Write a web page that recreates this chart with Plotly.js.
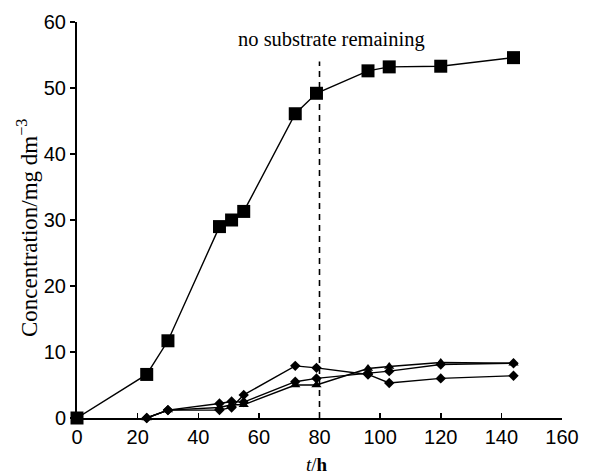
<!DOCTYPE html>
<html>
<head>
<meta charset="utf-8">
<script src="https://cdn.plot.ly/plotly-3.0.1.min.js"></script>
<style>html,body{margin:0;padding:0;background:#fff;}#chart{width:594px;height:475px;}</style>
</head>
<body>
<div id="chart"></div>
<script>
// Time points (h)
const tSquare = [0, 23, 30, 47, 51, 55, 72, 79, 96, 103, 120, 144];
const squareVals = [0, 6.6, 11.7, 29.0, 30.0, 31.3, 46.1, 49.2, 52.6, 53.2, 53.3, 54.6];

const tSmall = [23, 30, 47, 51, 55, 72, 79, 96, 103, 120, 144];
const diamondA = [0, 1.2, 1.2, 1.6, 3.5, 7.9, 7.6, 6.6, 5.3, 6.0, 6.4];
const diamondB = [0, 1.2, 2.2, 2.5, 2.4, 5.5, 6.0, 6.8, 7.1, 8.1, 8.3];
const triangleC = [0, 1.2, 1.6, 2.0, 2.0, 5.0, 5.0, 7.5, 7.8, 8.4, 8.3];

const xTicks = [0, 20, 40, 60, 80, 100, 120, 140, 160];
const yTicks = [0, 10, 20, 30, 40, 50, 60];
const cutoffTime = 80;
const cutoffLine = [0, 54];
const noteText = 'no substrate remaining';

const lineStyle = {color: '#000', width: 1.4};
const traces = [
  {x: tSquare, y: squareVals, mode: 'lines+markers', line: lineStyle,
   marker: {symbol: 'square', size: 13, color: '#000'}, cliponaxis: false},
  {x: tSmall, y: diamondA, mode: 'lines+markers', line: lineStyle,
   marker: {symbol: 'diamond', size: 8, color: '#000'}, cliponaxis: false},
  {x: tSmall, y: diamondB, mode: 'lines+markers', line: lineStyle,
   marker: {symbol: 'diamond', size: 8, color: '#000'}, cliponaxis: false},
  {x: tSmall, y: triangleC, mode: 'lines+markers', line: lineStyle,
   marker: {symbol: 'triangle-up', size: 9, color: '#000'}, cliponaxis: false},
  {x: [cutoffTime, cutoffTime], y: cutoffLine, mode: 'lines',
   line: {color: '#000', width: 1.6, dash: '6px,5px'}, cliponaxis: false}
];

const tickFont = {family: 'Liberation Sans, Arial, sans-serif', size: 20, color: '#000'};
const serif = 'Liberation Serif, Times New Roman, serif';
const layout = {
  width: 594, height: 475,
  margin: {l: 77, r: 32, t: 22, b: 57},
  paper_bgcolor: '#fff', plot_bgcolor: '#fff',
  showlegend: false,
  xaxis: {
    range: [0, 160], tickvals: xTicks, ticktext: xTicks.map(String),
    showgrid: false, zeroline: false, showline: true, linecolor: '#000', linewidth: 2,
    ticks: 'inside', ticklen: 5, tickwidth: 1.5, tickcolor: '#000',
    tickfont: tickFont
  },
  yaxis: {
    range: [0, 60], tickvals: yTicks, ticktext: yTicks.map(String),
    showgrid: false, zeroline: false, showline: true, linecolor: '#000', linewidth: 2,
    ticks: 'outside', ticklen: 5, tickwidth: 1.5, tickcolor: '#000',
    tickfont: tickFont
  },
  annotations: [
    {text: noteText, x: 84, y: 57.3, xref: 'x', yref: 'y', showarrow: false,
     font: {family: serif, size: 20.5, color: '#000'}},
    {text: '<i>t</i>/<b>h</b>', x: 0.495, y: 0, xref: 'paper', yref: 'paper', yshift: -46,
     xanchor: 'center', yanchor: 'middle', showarrow: false,
     font: {family: serif, size: 19, color: '#000'}},
    {text: 'Concentration/mg dm<sup>\u22123</sup>', x: 0, y: 0.5, xref: 'paper', yref: 'paper',
     xshift: -50, yshift: -8, textangle: -90, showarrow: false, xanchor: 'center', yanchor: 'middle',
     font: {family: serif, size: 23, color: '#000'}}
  ]
};

Plotly.newPlot('chart', traces, layout, {displayModeBar: false, staticPlot: true});
</script>
</body>
</html>
